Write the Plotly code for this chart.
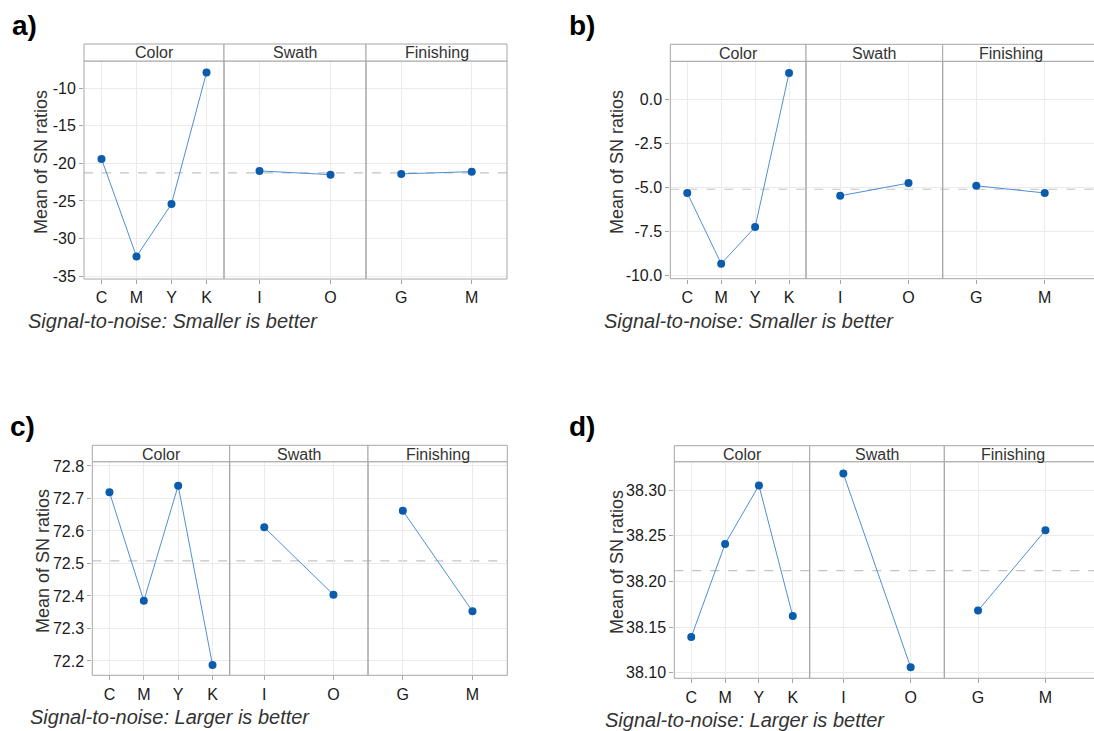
import numpy as np
import plotly.graph_objects as go

W, H = 1094, 731

factors = ["Color", "Swath", "Finishing"]
levels = [["C", "M", "Y", "K"], ["I", "O"], ["G", "M"]]

a_color = [-19.4, -32.4, -25.4, -7.9]
a_swath = [-21.0, -21.5]
a_finish = [-21.4, -21.1]

b_color = [-5.32, -9.34, -7.26, 1.49]
b_swath = [-5.48, -4.76]
b_finish = [-4.91, -5.32]

c_color = [72.719, 72.385, 72.739, 72.188]
c_swath = [72.611, 72.404]
c_finish = [72.662, 72.353]

d_color = [38.139, 38.241, 38.305, 38.162]
d_swath = [38.318, 38.106]
d_finish = [38.168, 38.256]

a_ticks = [-35, -30, -25, -20, -15, -10]
b_ticks = [-10.0, -7.5, -5.0, -2.5, 0.0]
c_ticks = [72.2, 72.3, 72.4, 72.5, 72.6, 72.7, 72.8]
d_ticks = [38.10, 38.15, 38.20, 38.25, 38.30]

panel_labels = ["a)", "b)", "c)", "d)"]
subtitles = ["Signal-to-noise: Smaller is better", "Signal-to-noise: Smaller is better",
             "Signal-to-noise: Larger is better", "Signal-to-noise: Larger is better"]
y_title = "Mean of SN ratios"

panels_data = [
    [a_color, a_swath, a_finish],
    [b_color, b_swath, b_finish],
    [c_color, c_swath, c_finish],
    [d_color, d_swath, d_finish],
]
panels_ticks = [a_ticks, b_ticks, c_ticks, d_ticks]

# layout geometry (pixels)
geo = [
    dict(xs=[84, 224, 366, 507], ytop=61, ybot=279, stop=44, yr=[-35.4, -6.36], fmt="{:.0f}",
         xr_last=None, lab=(24, 26), sub=(26, 321), yt=(41, 162)),
    dict(xs=[670.3, 806, 942.7, 1094], ytop=61.3, ybot=278.7, stop=44.3, yr=[-10.19, 2.16], fmt="{:.1f}",
         xr_last=[-0.491, 1.72], lab=(582, 26), sub=(601.7, 321), yt=(617, 162)),
    dict(xs=[92.3, 229.7, 368, 507.3], ytop=461.7, ybot=675.3, stop=445.3, yr=[72.156, 72.813], fmt="{:.1f}",
         xr_last=None, lab=(22, 426), sub=(28.3, 717), yt=(43, 561)),
    dict(xs=[674.3, 809.7, 944.3, 1094], ytop=461.7, ybot=678.3, stop=445.7, yr=[38.0939, 38.331], fmt="{:.2f}",
         xr_last=[-0.5, 1.72], lab=(582, 426), sub=(603.3, 720), yt=(617, 562)),
]

FONT = "Liberation Sans, Arial, sans-serif"
LINE_C = "#4f8fd6"
MARK_C = "#0b5cad"
GRID_C = "#ebebeb"
BORDER_C = "#a6a6a6"

def px(x):
    return x / W

def py(y):
    return 1 - y / H

fig = go.Figure()
layout = dict(template="none", width=W, height=H, margin=dict(l=0, r=0, t=0, b=0, autoexpand=False),
              paper_bgcolor="white", plot_bgcolor="white", showlegend=False,
              font=dict(family=FONT, color="#1a1a1a"))
shapes = []
annotations = []

for p in range(4):
    g = geo[p]
    first_k = p * 3 + 1
    tv = panels_ticks[p]
    tt = [g["fmt"].format(v) for v in tv]
    for s in range(3):
        k = p * 3 + s + 1
        xa = "xaxis" if k == 1 else f"xaxis{k}"
        ya = "yaxis" if k == 1 else f"yaxis{k}"
        xref = "x" if k == 1 else f"x{k}"
        yref = "y" if k == 1 else f"y{k}"
        n = len(levels[s])
        xr = [-0.5, n - 0.5]
        if s == 2 and g["xr_last"] is not None:
            xr = g["xr_last"]
        x0, x1 = g["xs"][s], g["xs"][s + 1]
        layout[xa] = dict(domain=[px(x0), px(x1)], anchor=yref, type="category", range=xr,
                          automargin=False,
                          showgrid=True, gridcolor=GRID_C, gridwidth=1, zeroline=False, showline=False,
                          ticks="outside", ticklen=4, tickcolor=BORDER_C, tickwidth=1,
                          tickfont=dict(size=16, color="#1a1a1a", family=FONT), fixedrange=True)
        layout[ya] = dict(domain=[py(g["ybot"]), py(g["ytop"])], anchor=xref, range=g["yr"],
                          automargin=False, tickmode="array", tickvals=tv, ticktext=tt,
                          showgrid=True, gridcolor=GRID_C, gridwidth=1, zeroline=False, showline=False,
                          showticklabels=(s == 0), ticks="outside" if s == 0 else "",
                          ticklen=4, tickcolor=BORDER_C, tickwidth=1,
                          tickfont=dict(size=16, color="#1a1a1a", family=FONT), fixedrange=True)
        vals = panels_data[p][s]
        fig.add_trace(go.Scatter(x=levels[s], y=vals, xaxis=xref, yaxis=yref, mode="lines+markers",
                                 line=dict(color=LINE_C, width=1),
                                 marker=dict(color=MARK_C, size=8), hoverinfo="skip"))
        right = x1 if x1 < W else W + 10
        shapes.append(dict(type="rect", xref="paper", yref="paper", x0=px(x0), x1=px(right),
                           y0=py(g["ybot"]), y1=py(g["ytop"]),
                           line=dict(color=BORDER_C, width=1), fillcolor="rgba(0,0,0,0)", layer="above"))
        shapes.append(dict(type="rect", xref="paper", yref="paper", x0=px(x0), x1=px(right),
                           y0=py(g["ytop"]), y1=py(g["stop"]),
                           line=dict(color=BORDER_C, width=1), fillcolor="white", layer="above"))
        cx = (x0 + x1) / 2 if x1 < W else (x0 + (x0 + 136.5)) / 2
        annotations.append(dict(x=px(cx), y=py((g["ytop"] + g["stop"]) / 2 + 0.5), xref="paper", yref="paper",
                                text=factors[s], showarrow=False, xanchor="center", yanchor="middle",
                                font=dict(size=16, color="#333333", family=FONT)))
    mean_val = float(np.mean(panels_data[p][0]))
    yref0 = "y" if first_k == 1 else f"y{first_k}"
    right_edge = g["xs"][3] if g["xs"][3] < W else W + 10
    shapes.append(dict(type="line", xref="paper", yref=yref0, x0=px(g["xs"][0]), x1=px(right_edge),
                       y0=mean_val, y1=mean_val, line=dict(color="#c4c4c4", width=1.2, dash="dash"),
                       layer="between"))
    annotations.append(dict(x=px(g["lab"][0]), y=py(g["lab"][1]), xref="paper", yref="paper",
                            text=f"<b>{panel_labels[p]}</b>", showarrow=False, xanchor="center", yanchor="middle",
                            font=dict(size=28, color="black", family=FONT)))
    annotations.append(dict(x=px(g["sub"][0]), y=py(g["sub"][1]), xref="paper", yref="paper",
                            text=f"<i>{subtitles[p]}</i>", showarrow=False, xanchor="left", yanchor="middle",
                            font=dict(size=20, color="#333333", family=FONT)))
    annotations.append(dict(x=px(g["yt"][0]), y=py(g["yt"][1]), xref="paper", yref="paper",
                            text=y_title, showarrow=False, textangle=-90, xanchor="center", yanchor="middle",
                            font=dict(size=18, color="#333333", family=FONT)))

layout["shapes"] = shapes
layout["annotations"] = annotations
fig.update_layout(**layout)
fig.write_html("out.html")
